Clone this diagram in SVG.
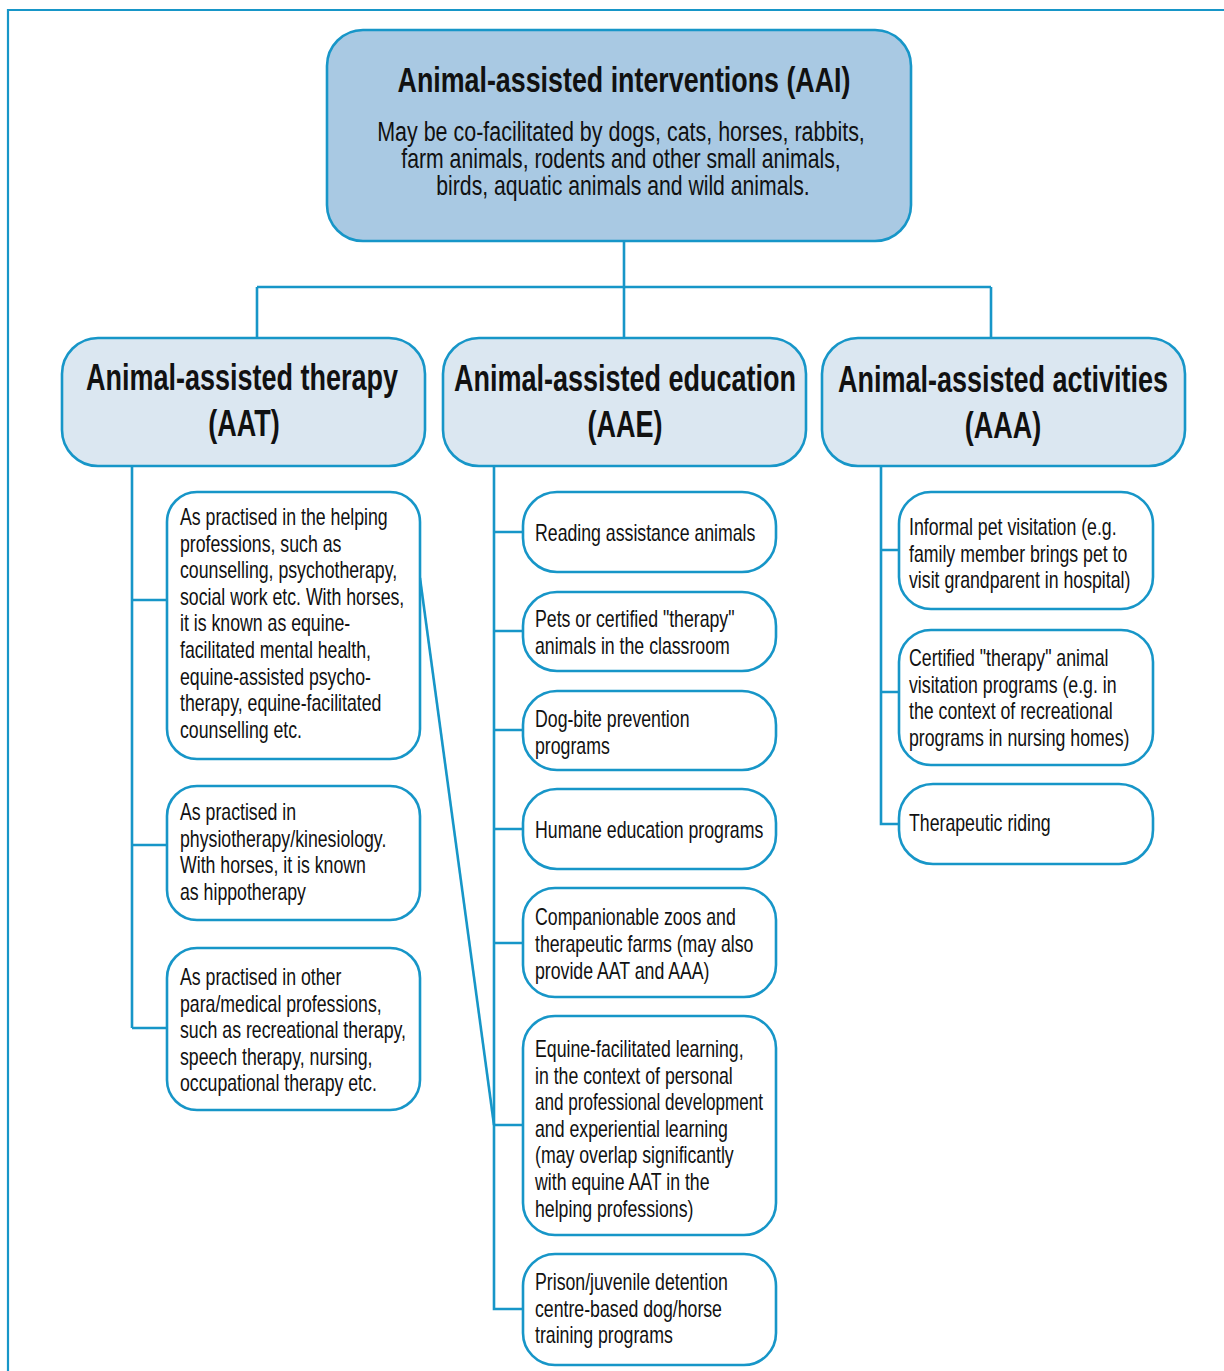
<svg xmlns="http://www.w3.org/2000/svg" width="1224" height="1371" viewBox="0 0 1224 1371">
<style>
.frame{fill:none;stroke:#1796c8;stroke-width:2.2}
.conn path{fill:none;stroke:#1796c8;stroke-width:2.6}
.top{fill:#a9c9e3;stroke:#1796c8;stroke-width:2.6}
.mid{fill:#dbe7f1;stroke:#1796c8;stroke-width:2.6}
.leaf{fill:#ffffff;stroke:#1796c8;stroke-width:2.6}
.h{font-family:"Liberation Sans",Arial,sans-serif;font-weight:bold;font-size:36px;fill:#111;text-anchor:middle}
.s{font-family:"Liberation Sans",Arial,sans-serif;font-size:27px;fill:#111;text-anchor:middle}
.t{font-family:"Liberation Sans",Arial,sans-serif;font-size:23px;fill:#111}
</style>
<rect x="0" y="0" width="1224" height="1371" fill="#ffffff"/>
<path class="frame" d="M8,1371 V10 H1224"/>

<g id="connectors" class="conn">
<path d="M624,241 V287 M257,287 H991 M257,287 V338 M624,287 V338 M991,287 V338"/>
<path d="M132,466 V1028 M132,600 H167 M132,845 H167 M132,1028 H167"/>
<path d="M494,466 V1309 H523 M494,532 H523 M494,631 H523 M494,730 H523 M494,829 H523 M494,943 H523 M494,1125 H523"/>
<path d="M881,466 V824 H899 M881,550 H899 M881,692 H899"/>
<path d="M420,578 L494,1125"/>
</g>

<g id="aai">
<rect class="top" x="327" y="30" width="584" height="211" rx="36"/>
<text class="h" transform="translate(624,92) scale(0.745,1)">Animal-assisted interventions (AAI)</text>
<text class="s" transform="translate(621,141) scale(0.795,1)">May be co-facilitated by dogs, cats, horses, rabbits,</text>
<text class="s" transform="translate(621,168) scale(0.785,1)">farm animals, rodents and other small animals,</text>
<text class="s" transform="translate(623,195) scale(0.785,1)">birds, aquatic animals and wild animals.</text>
</g>

<g id="aat">
<rect class="mid" x="62" y="338" width="363" height="128" rx="36"/>
<text class="h" transform="translate(242,390) scale(0.75,1)">Animal-assisted therapy</text>
<text class="h" transform="translate(244,436) scale(0.75,1)">(AAT)</text>
</g>
<g id="aae">
<rect class="mid" x="443" y="338" width="363" height="128" rx="36"/>
<text class="h" transform="translate(625,391) scale(0.75,1)">Animal-assisted education</text>
<text class="h" transform="translate(625,437) scale(0.75,1)">(AAE)</text>
</g>
<g id="aaa">
<rect class="mid" x="822" y="338" width="363" height="128" rx="36"/>
<text class="h" transform="translate(1003,392) scale(0.75,1)">Animal-assisted activities</text>
<text class="h" transform="translate(1003,438) scale(0.75,1)">(AAA)</text>
</g>

<g id="aat1">
<rect class="leaf" x="167" y="492" width="253" height="267" rx="30"/>
<text class="t" transform="translate(180,0) scale(0.77,1)">
<tspan x="0" y="525">As practised in the helping</tspan>
<tspan x="0" y="551.6">professions, such as</tspan>
<tspan x="0" y="578.2">counselling, psychotherapy,</tspan>
<tspan x="0" y="604.8">social work etc. With horses,</tspan>
<tspan x="0" y="631.4">it is known as equine-</tspan>
<tspan x="0" y="658">facilitated mental health,</tspan>
<tspan x="0" y="684.6">equine-assisted psycho-</tspan>
<tspan x="0" y="711.2">therapy, equine-facilitated</tspan>
<tspan x="0" y="737.8">counselling etc.</tspan>
</text>
</g>
<g id="aat2">
<rect class="leaf" x="167" y="786" width="253" height="134" rx="30"/>
<text class="t" transform="translate(180,0) scale(0.77,1)">
<tspan x="0" y="820">As practised in</tspan>
<tspan x="0" y="846.6">physiotherapy/kinesiology.</tspan>
<tspan x="0" y="873.2">With horses, it is known</tspan>
<tspan x="0" y="899.8">as hippotherapy</tspan>
</text>
</g>
<g id="aat3">
<rect class="leaf" x="167" y="948" width="253" height="162" rx="30"/>
<text class="t" transform="translate(180,0) scale(0.77,1)">
<tspan x="0" y="985">As practised in other</tspan>
<tspan x="0" y="1011.6">para/medical professions,</tspan>
<tspan x="0" y="1038.2">such as recreational therapy,</tspan>
<tspan x="0" y="1064.8">speech therapy, nursing,</tspan>
<tspan x="0" y="1091.4">occupational therapy etc.</tspan>
</text>
</g>

<g id="aae1">
<rect class="leaf" x="523" y="492" width="253" height="80" rx="34"/>
<text class="t" transform="translate(535,0) scale(0.77,1)"><tspan x="0" y="541">Reading assistance animals</tspan></text>
</g>
<g id="aae2">
<rect class="leaf" x="523" y="592" width="253" height="79" rx="34"/>
<text class="t" transform="translate(535,0) scale(0.77,1)">
<tspan x="0" y="627">Pets or certified "therapy"</tspan>
<tspan x="0" y="654">animals in the classroom</tspan>
</text>
</g>
<g id="aae3">
<rect class="leaf" x="523" y="691" width="253" height="79" rx="34"/>
<text class="t" transform="translate(535,0) scale(0.77,1)">
<tspan x="0" y="727">Dog-bite prevention</tspan>
<tspan x="0" y="754">programs</tspan>
</text>
</g>
<g id="aae4">
<rect class="leaf" x="523" y="789" width="253" height="80" rx="34"/>
<text class="t" transform="translate(535,0) scale(0.77,1)"><tspan x="0" y="838">Humane education programs</tspan></text>
</g>
<g id="aae5">
<rect class="leaf" x="523" y="888" width="253" height="109" rx="32"/>
<text class="t" transform="translate(535,0) scale(0.77,1)">
<tspan x="0" y="925">Companionable zoos and</tspan>
<tspan x="0" y="952">therapeutic farms (may also</tspan>
<tspan x="0" y="979">provide AAT and AAA)</tspan>
</text>
</g>
<g id="aae6">
<rect class="leaf" x="523" y="1016" width="253" height="219" rx="32"/>
<text class="t" transform="translate(535,0) scale(0.77,1)">
<tspan x="0" y="1057">Equine-facilitated learning,</tspan>
<tspan x="0" y="1083.6">in the context of personal</tspan>
<tspan x="0" y="1110.2" textLength="296" lengthAdjust="spacingAndGlyphs">and professional development</tspan>
<tspan x="0" y="1136.8">and experiential learning</tspan>
<tspan x="0" y="1163.4">(may overlap significantly</tspan>
<tspan x="0" y="1190">with equine AAT in the</tspan>
<tspan x="0" y="1216.6">helping professions)</tspan>
</text>
</g>
<g id="aae7">
<rect class="leaf" x="523" y="1254" width="253" height="111" rx="32"/>
<text class="t" transform="translate(535,0) scale(0.77,1)">
<tspan x="0" y="1290">Prison/juvenile detention</tspan>
<tspan x="0" y="1316.6">centre-based dog/horse</tspan>
<tspan x="0" y="1343.2">training programs</tspan>
</text>
</g>

<g id="aaa1">
<rect class="leaf" x="899" y="492" width="254" height="117" rx="32"/>
<text class="t" transform="translate(909,0) scale(0.77,1)">
<tspan x="0" y="535">Informal pet visitation (e.g.</tspan>
<tspan x="0" y="561.6">family member brings pet to</tspan>
<tspan x="0" y="588.2">visit grandparent in hospital)</tspan>
</text>
</g>
<g id="aaa2">
<rect class="leaf" x="899" y="630" width="254" height="135" rx="32"/>
<text class="t" transform="translate(909,0) scale(0.77,1)">
<tspan x="0" y="666">Certified "therapy" animal</tspan>
<tspan x="0" y="692.6">visitation programs (e.g. in</tspan>
<tspan x="0" y="719.2">the context of recreational</tspan>
<tspan x="0" y="745.8">programs in nursing homes)</tspan>
</text>
</g>
<g id="aaa3">
<rect class="leaf" x="899" y="784" width="254" height="80" rx="34"/>
<text class="t" transform="translate(909,0) scale(0.77,1)"><tspan x="0" y="831">Therapeutic riding</tspan></text>
</g>
</svg>
